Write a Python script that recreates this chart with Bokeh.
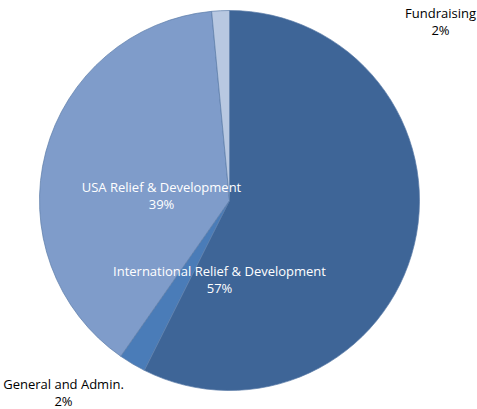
import math
from bokeh.plotting import figure
from bokeh.models import Range1d, ColumnDataSource
from bokeh.core.properties import value
from bokeh.embed import file_html
from bokeh.resources import INLINE

categories = ["International Relief & Development", "General and Admin.", "USA Relief & Development", "Fundraising"]
shares = [57.4, 2.3, 38.8, 1.5]
pct_labels = ["57%", "2%", "39%", "2%"]
colors = ["#3E6597", "#4A7CB8", "#7F9CCA", "#B8C8E1"]

W, H = 477, 409
p = figure(width=W, height=H, output_backend="svg", toolbar_location=None,
           x_range=Range1d(0, W), y_range=Range1d(0, H), min_border=0)
p.axis.visible = False
p.grid.visible = False
p.outline_line_color = None
p.background_fill_color = "white"

total = sum(shares)
starts, ends = [], []
acc = 0.0
for s in shares:
    starts.append(math.pi / 2 - 2 * math.pi * acc / total)
    acc += s
    ends.append(math.pi / 2 - 2 * math.pi * acc / total)

cx, cy, r = 229, H - 200, 190
src = ColumnDataSource(dict(start=starts, end=ends, color=colors))
p.wedge(x=cx, y=cy, radius=r, start_angle="start", end_angle="end", direction="clock",
        fill_color="color", line_color="#5A7BA8", line_width=0.7, source=src)

# label layout (pixel positions from top-left)
label_pos = [(219, 270), (63, 383), (161, 186), (440, 12)]
label_col = ["white", "black", "white", "black"]
for (lx, ly), name, pct, col in zip(label_pos, categories, pct_labels, label_col):
    p.text(x=[lx, lx], y=[H - ly, H - ly - 17], text=[name, pct],
           text_font=value("Open Sans"), text_font_size="13px", text_color=col,
           text_align="center", text_baseline="middle")

open("out.html", "w").write(file_html(p, INLINE))
